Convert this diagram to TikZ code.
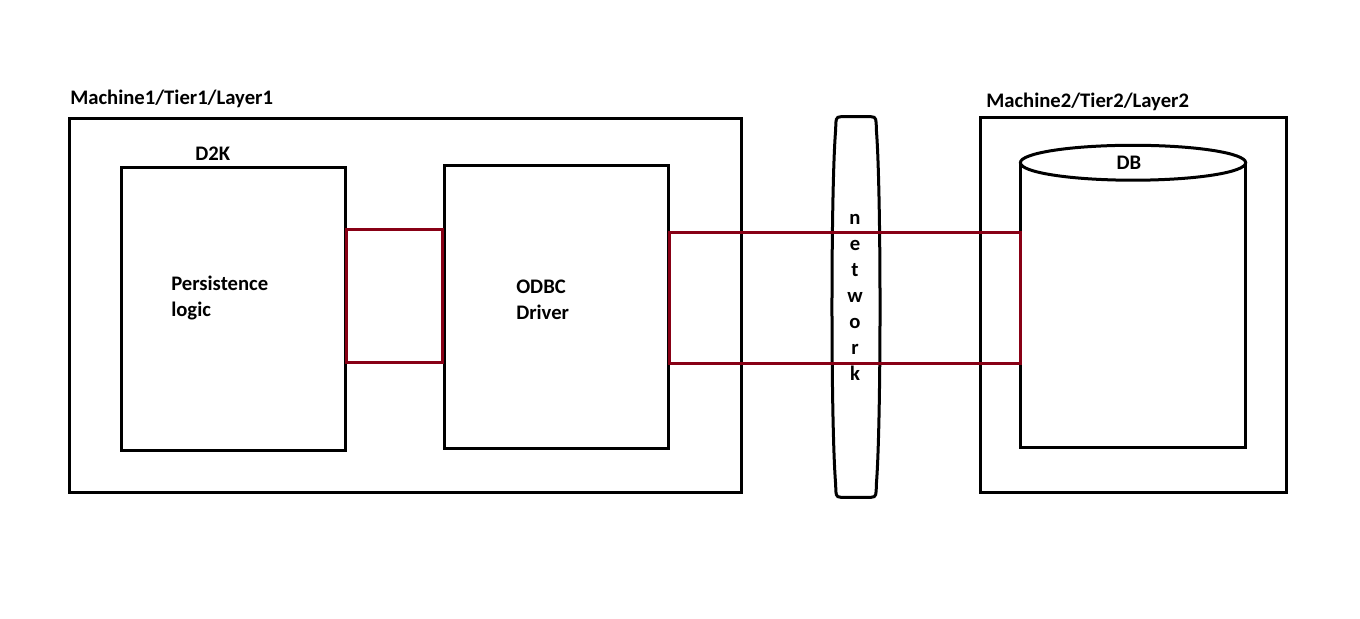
\documentclass[tikz,border=0pt]{standalone}
\usepackage{fontspec}
\setmainfont{Carlito}
\usepackage{tikz}
\usepackage{xcolor}
\usetikzlibrary{calc}

\definecolor{linkred}{HTML}{880015}

\tikzset{
  box/.style={draw, line width=2.25pt, inner sep=0pt, minimum width=#1},
  link/.style={draw=linkred, line width=2.25pt},
  lbl/.style={font=\fontsize{15.5}{19.5}\selectfont\bfseries, inner sep=0pt}
}

\begin{document}
\begin{tikzpicture}[x=0.75pt, y=-0.75pt]
  \useasboundingbox (0,0) rectangle (1360,618);

  \node[box=504pt, minimum height=280.5pt] (machine1) at (405,305) {};
  \node[box=229.5pt, minimum height=281.25pt] (machine2) at (1133,304.5) {};

  \node[lbl, anchor=base west] (m1label) at (70,104) {Machine1/Tier1/Layer1};
  \node[lbl, anchor=base west] (m2label) at (986,107) {Machine2/Tier2/Layer2};

  \node[box=168pt, minimum height=212.25pt] (d2k) at (233,308.5) {};
  \node[box=168pt, minimum height=212.25pt] (odbc) at (556,306.5) {};

  \node[lbl, anchor=base west] (d2klabel) at (195,160) {D2K};
  \node[lbl, anchor=base west, align=left] (persist) at (171,316) {Persistence\\logic};
  \node[lbl, anchor=base west, align=left] (driver) at (516,319) {ODBC\\Driver};

  % network
  \node[inner sep=0pt, minimum width=36pt, minimum height=285pt] (network) at (856,307) {};
  \draw[line width=2.25pt]
    ($(network.north west)+(9,0)$) -- ($(network.north east)+(-9,0)$)
    .. controls ($(network.north east)+(-4,0)$) and ($(network.north east)+(-4,3)$) .. ($(network.north east)+(-4,12)$)
    .. controls ($(network.east)+(1,-120)$) and ($(network.east)+(1,120)$) .. ($(network.south east)+(-4,-12)$)
    .. controls ($(network.south east)+(-4,-3)$) and ($(network.south east)+(-4,0)$) .. ($(network.south east)+(-9,0)$)
    -- ($(network.south west)+(9,0)$)
    .. controls ($(network.south west)+(4,0)$) and ($(network.south west)+(4,-3)$) .. ($(network.south west)+(4,-12)$)
    .. controls ($(network.west)+(-1,120)$) and ($(network.west)+(-1,-120)$) .. ($(network.north west)+(4,12)$)
    .. controls ($(network.north west)+(4,3)$) and ($(network.north west)+(4,0)$) .. cycle;
  \foreach \ch [count=\i from 0] in {n,e,t,w,o,r,k}
    \node[lbl, anchor=base] (net\i) at (855,224+26*\i) {\ch};

  % database
  \node[inner sep=0pt, minimum width=168pt, minimum height=213pt] (db) at (1133,305) {};
  \draw[line width=2.25pt] (db.north west) -- (db.south west) -- (db.south east) -- (db.north east);
  \draw[line width=2.25pt, fill=white] (db.north) ellipse [x radius=84.5pt, y radius=13.1pt];
  \node[lbl, anchor=base] (dblabel) at (1129,169) {DB};

  \draw[link] (d2k.east |- 0,229) -- (odbc.west |- 0,229) -- (odbc.west |- 0,362) -- (d2k.east |- 0,362) -- cycle;
  \draw[link] (odbc.east |- 0,232) -- (db.west |- 0,232) -- (db.west |- 0,363) -- (odbc.east |- 0,363) -- cycle;

\end{tikzpicture}
\end{document}
